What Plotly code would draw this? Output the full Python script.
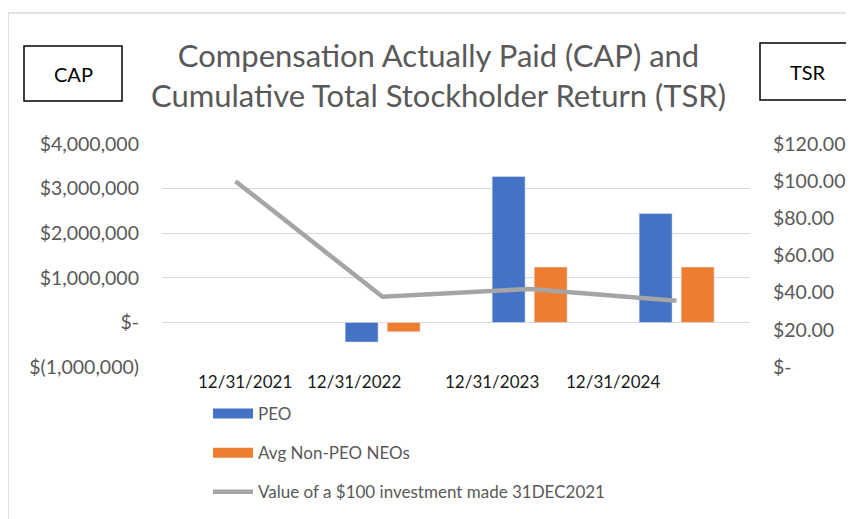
import plotly.graph_objects as go

categories = ["12/31/2021", "12/31/2022", "12/31/2023", "12/31/2024"]
tick_labels = ["12/31/2021", "12/31/2022", "12/31/2023", "12/31/2024"]
peo_cap = [None, -440000, 3270000, 2440000]
neo_cap = [None, -210000, 1240000, 1240000]
tsr_value = [100.0, 37.8, 42.0, 35.7]

left_ticks = [-1000000, 0, 1000000, 2000000, 3000000, 4000000]
left_ticktext = ["$(1,000,000)", "$-", "$1,000,000", "$2,000,000", "$3,000,000", "$4,000,000"]
right_ticks = [0, 20, 40, 60, 80, 100, 120]
right_ticktext = ["$-", "$20.00", "$40.00", "$60.00", "$80.00", "$100.00", "$120.00"]

FONT = "Lato"
GREY = "#595959"
BLUE = "#4472C4"
ORANGE = "#ED7D31"
OFF = 8  # page body offset of the rendered figure

fig = go.Figure()
fig.add_trace(go.Bar(
    x=categories, y=peo_cap, name="PEO", marker_color=BLUE,
    width=0.224, offset=-0.254, showlegend=False))
fig.add_trace(go.Bar(
    x=categories, y=neo_cap, name="Avg Non-PEO NEOs", marker_color=ORANGE,
    width=0.224, offset=0.032, showlegend=False))
fig.add_trace(go.Scatter(
    x=categories, y=tsr_value, name="Value of a $100 investment made 31DEC2021",
    mode="lines", line=dict(color="#A5A5A5", width=4.5), yaxis="y2",
    legendgroup="c", legendrank=3))
# legend entries drawn as wide swatches like the reference
fig.add_trace(go.Scatter(x=[None], y=[None], name="PEO", mode="lines",
                         line=dict(color=BLUE, width=10), legendgroup="a", legendrank=1))
fig.add_trace(go.Scatter(x=[None], y=[None], name="Avg Non-PEO NEOs", mode="lines",
                         line=dict(color=ORANGE, width=10), legendgroup="b", legendrank=2))

def px_x(px):
    return (px - 162) / 588.0

def px_y(py):
    return (367 - py) / 223.0

# x tick labels placed as in reference (offset from category centres)
label_pos = [0.065, 0.806, 1.745, 2.568]
annotations = []
for lbl, p in zip(tick_labels, label_pos):
    annotations.append(dict(x=p, y=px_y(381), xref="x", yref="paper", text=lbl,
                            showarrow=False, xanchor="center", yanchor="middle",
                            font=dict(family=FONT, size=17, color="#1a1a1a")))

annotations.append(dict(x=px_x(73), y=px_y(74), xref="paper", yref="paper", text="CAP",
                        showarrow=False, xanchor="center", yanchor="middle",
                        font=dict(family=FONT, size=20, color="#000000")))
annotations.append(dict(x=px_x(808), y=px_y(72), xref="paper", yref="paper", text="TSR",
                        showarrow=False, xanchor="center", yanchor="middle",
                        font=dict(family=FONT, size=20, color="#000000")))
annotations.append(dict(x=px_x(438), y=px_y(75), xref="paper", yref="paper",
                        text="Compensation Actually Paid (CAP) and<br>Cumulative Total Stockholder Return (TSR)",
                        showarrow=False, align="center", xanchor="center", yanchor="middle",
                        font=dict(family=FONT, size=31, color=GREY)))

shapes = [
    dict(type="rect", xref="paper", yref="paper", x0=px_x(24), x1=px_x(122), y0=px_y(101), y1=px_y(46),
         line=dict(color="#000000", width=1.5)),
    dict(type="rect", xref="paper", yref="paper", x0=px_x(760), x1=px_x(870), y0=px_y(100), y1=px_y(43),
         line=dict(color="#000000", width=1.5)),
    dict(type="line", xref="paper", yref="paper", x0=px_x(8), x1=px_x(870), y0=px_y(13), y1=px_y(13),
         line=dict(color="#D9D9D9", width=1.5)),
    dict(type="line", xref="paper", yref="paper", x0=px_x(8), x1=px_x(8), y0=px_y(13), y1=px_y(530),
         line=dict(color="#D9D9D9", width=1.5)),
]

fig.update_layout(
    width=854 - OFF, height=519 - OFF,
    margin=dict(l=162 - OFF, r=104, t=144 - OFF, b=152, autoexpand=False),
    paper_bgcolor="white", plot_bgcolor="white",
    barmode="overlay",
    showlegend=True,
    legend=dict(x=px_x(208), y=px_y(396), xanchor="left", yanchor="top",
                orientation="v", tracegroupgap=14, itemwidth=40,
                font=dict(family=FONT, size=17, color=GREY)),
    xaxis=dict(type="category", range=[-0.5, 3.5], showticklabels=False,
               showgrid=False, zeroline=False, showline=False),
    yaxis=dict(range=[-1000000, 4000000], tickvals=left_ticks, ticktext=left_ticktext,
               showgrid=True, gridcolor="#D9D9D9", gridwidth=1.2, zeroline=False,
               ticklabelstandoff=22,
               tickfont=dict(family=FONT, size=19.5, color=GREY)),
    yaxis2=dict(range=[0, 120], overlaying="y", side="right", tickvals=right_ticks,
                ticktext=right_ticktext, showgrid=False, zeroline=False,
                ticklabelstandoff=22,
                tickfont=dict(family=FONT, size=19.5, color=GREY)),
    annotations=annotations,
    shapes=shapes,
)

fig.write_html("out.html")
